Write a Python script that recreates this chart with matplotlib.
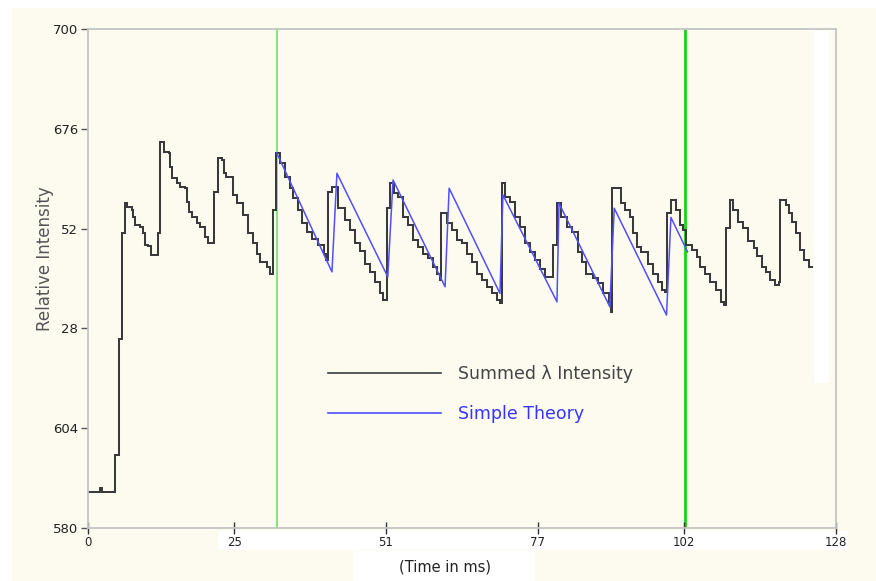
import matplotlib
matplotlib.use("Agg")
import matplotlib.pyplot as plt
from matplotlib.patches import Rectangle
from matplotlib.lines import Line2D

# ---- data -------------------------------------------------------------
# measured (summed-wavelength) intensity: step breakpoints (time ms, value)
black_t = [0, 2.0, 2.4, 4.6, 5.35, 5.9, 6.35, 6.6, 7.45, 7.75, 8.05, 8.9, 9.45,
           9.75, 10.3, 10.8, 11.9, 12.3, 13.0, 13.85, 14.05, 14.3, 15.3, 15.75,
           16.6, 16.9, 17.2, 17.75, 18.6, 19.15, 20.0, 20.6, 21.55, 22.3, 22.85,
           23.25, 23.7, 24.85, 25.45, 26.6, 27.45, 28.3, 28.85, 29.45, 30.55,
           31.15, 31.7, 32.1,
           32.9, 33.7, 34.6, 35.1, 36.0, 36.6, 37.4, 38.3, 39.4, 40.3, 40.8,
           41.1, 41.7, 42.7, 43.9, 44.8, 45.7, 46.5, 47.4, 48.25, 49.1, 49.95,
           50.5, 51.2, 51.6, 52.4, 53.1, 53.95, 54.8, 55.7, 56.5, 57.4, 58.2,
           59.1, 59.65, 60.2, 60.4, 61.4, 62.3, 63.2, 64.0, 64.8, 65.7, 66.5,
           67.4, 68.2, 69.1, 70.0, 70.5, 70.9, 71.35, 72.2, 73.05, 73.9, 74.8,
           75.6, 76.5, 77.3, 78.2, 79.6, 80.3, 81.0, 81.9, 82.8, 83.9, 84.5,
           85.3, 86.5, 87.3, 88.2, 89.1, 89.5, 89.7, 91.2, 91.9, 92.7, 93.3,
           93.9, 94.7, 95.9, 96.7, 97.6, 98.2, 98.8, 99.1, 99.8, 100.6, 101.3,
           101.9, 102.4, 103.3, 104.2, 104.8, 105.6, 106.5, 107.4, 108.3, 108.8,
           109.2, 109.9, 110.4, 111.3, 112.1, 113.0, 113.9, 114.4, 115.3, 116.1,
           116.7, 117.6, 118.3, 118.5, 119.4, 119.9, 120.5, 121.1, 121.9, 122.6,
           123.3, 123.9]
black_v = [588.7, 589.6, 588.7, 597.5, 625.4, 650.9, 658.2, 657.3, 656.5, 654.9,
           652.9, 652.5, 650.9, 648.1, 647.7, 645.6, 650.9, 672.9, 670.5, 670.1,
           666.9, 664.1, 662.9, 662.1, 661.7, 658.5, 656.1, 654.9, 653.3, 652.5,
           650.1, 648.5, 660.9, 668.9, 668.5, 665.3, 664.5, 660.1, 658.1, 655.3,
           650.9, 648.5, 646.0, 644.0, 642.8, 641.2, 656.5, 670.1,
           667.7, 664.5, 661.7, 659.3, 656.5, 653.3, 651.3, 649.6, 648.1, 646.0,
           644.4, 660.9, 661.9, 656.9, 654.1, 651.7, 648.5, 646.5, 643.6, 641.6,
           639.2, 636.4, 634.8, 656.9, 662.9, 660.5, 659.7, 654.9, 652.9, 649.2,
           647.6, 646.0, 644.9, 642.8, 641.2, 639.6, 655.7, 653.3, 651.7, 649.2,
           648.5, 646.0, 644.0, 641.2, 639.6, 638.0, 636.4, 634.8, 634.0, 662.9,
           659.7, 658.5, 654.9, 652.5, 648.5, 646.4, 644.4, 642.4, 640.4, 648.1,
           658.1, 654.9, 652.5, 651.3, 646.4, 644.0, 641.2, 640.0, 638.8, 636.4,
           634.4, 632.0, 661.7, 658.1, 656.5, 654.9, 650.9, 647.6, 646.4, 643.6,
           641.2, 639.2, 637.2, 636.8, 655.7, 658.9, 656.5, 652.9, 651.7, 648.1,
           646.9, 645.2, 642.8, 641.2, 639.2, 637.2, 634.4, 633.6, 652.1, 658.9,
           656.5, 653.7, 652.1, 648.9, 647.3, 645.3, 642.8, 641.6, 639.6, 638.4,
           639.2, 658.9, 657.7, 655.7, 653.7, 650.9, 646.9, 644.4, 642.8, 642.8]

# simple theory: sawtooth vertices (time ms, value)
theory_t = [32.3, 41.75, 42.6, 51.3, 52.2, 61.1, 61.8, 70.5, 71.0, 80.25, 80.6,
            89.3, 90.05, 99.0, 99.75, 102.6]
theory_v = [670.2, 641.6, 665.3, 640.4, 663.7, 638.0, 661.7, 636.4, 660.1, 634.4,
            658.1, 633.2, 656.9, 631.2, 654.7, 646.4]

# markers bounding the compared interval
marker_t = [32.4, 102.2]

x_ticks = [0, 25, 51, 77, 102, 128]
x_tick_labels = ["0", "25", "51", "77", "102", "128"]
y_ticks = [580, 604, 628, 652, 676, 700]
y_tick_labels = ["580", "604", "28", "52", "676", "700"]

series_labels = ["Summed \u03bb Intensity", "Simple Theory"]

# ---- figure -----------------------------------------------------------
W, H = 876, 581
cream = "#fdfbf0"
fig = plt.figure(figsize=(W / 100, H / 100), dpi=100, facecolor="white")

def fig_rect(x0, y0, x1, y1, color, z=-10):
    fig.patches.append(Rectangle((x0 / W, 1 - y1 / H), (x1 - x0) / W, (y1 - y0) / H,
                                 transform=fig.transFigure, facecolor=color,
                                 edgecolor="none", zorder=z))

fig_rect(12, 8, W, H, cream)
fig_rect(218, 531, 848, 550, "white", z=-9)
fig_rect(353, 551, 535, H, "white", z=-9)

ax = fig.add_axes([88 / W, 1 - 528 / H, 748 / W, 499 / H])
ax.set_facecolor(cream)
ax.set_xlim(0, 128)
ax.set_ylim(580, 700)

# white smear near the right edge of the plot area
ax.add_patch(Rectangle((0.97, 0.29), 0.02, 0.705, transform=ax.transAxes,
                       facecolor="white", edgecolor="none", zorder=0.5))

for xm, c, lw in zip(marker_t, ["#78e86a", "#12d612"], [1.3, 2.0]):
    ax.axvline(xm, color=c, lw=lw, zorder=1)

ax.plot(black_t, black_v, drawstyle="steps-post", color="#3a3a3a", lw=1.45,
        zorder=2, solid_joinstyle="miter")
ax.plot(theory_t, theory_v, color="#5050ff", lw=1.1, zorder=3)

for s in ax.spines.values():
    s.set_color("#c4c4c4")
    s.set_linewidth(1.3)

ax.set_xticks(x_ticks)
ax.set_xticklabels(x_tick_labels)
ax.set_yticks(y_ticks)
ax.set_yticklabels(y_tick_labels)
ax.tick_params(axis="y", direction="out", length=5, width=1, color="#555555",
               labelsize=9.5, labelcolor="#222222", pad=2)
ax.tick_params(axis="x", direction="inout", length=8, width=1, color="#333333",
               labelsize=8.5, labelcolor="#222222", pad=2)

ax.set_ylabel("Relative Intensity", fontsize=12, color="#555555")
ax.yaxis.label.set_va("center")
ax.yaxis.set_label_coords(-0.0575, 0.54)
ax.set_xlabel("(Time in ms)", fontsize=10.5, color="#222222")
ax.xaxis.set_label_coords(0.477, -0.078)
ax.xaxis.label.set_va("center")

handles = [Line2D([], [], color="#3a3a3a", lw=1.2),
           Line2D([], [], color="#5050ff", lw=1.2)]
leg = ax.legend(handles, series_labels, loc="upper left",
                bbox_to_anchor=((328 - 88) / 748, 1 - (365 - 29) / 499),
                frameon=False, fontsize=12.5, handlelength=6.5,
                handletextpad=1.0, labelspacing=1.25, borderpad=0,
                borderaxespad=0)
for txt, c in zip(leg.get_texts(), ["#444444", "#3535ff"]):
    txt.set_color(c)

fig.savefig("out.png", dpi=100, facecolor=fig.get_facecolor())
